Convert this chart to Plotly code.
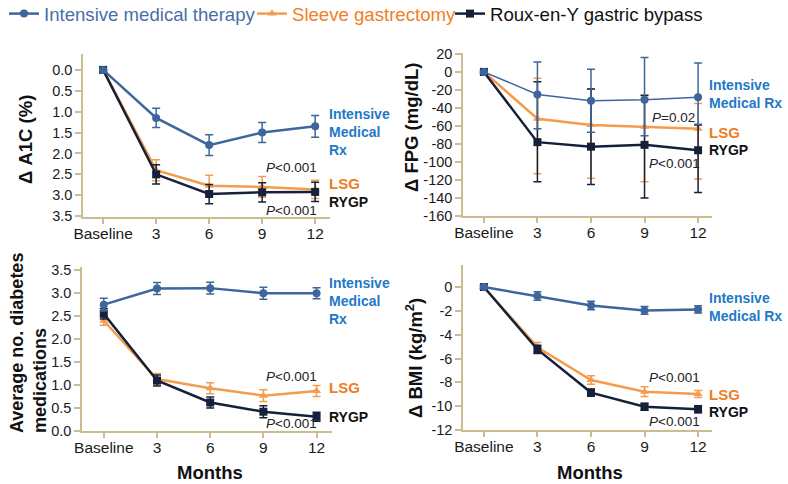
import plotly.graph_objects as go

# ---------------- data ----------------
months = ["Baseline", "3", "6", "9", "12"]
xpos = [0, 1, 2, 3, 4]

series_names = ["Intensive medical therapy", "Sleeve gastrectomy", "Roux-en-Y gastric bypass"]

# Panel A: change in A1C (%), axis reversed
a1c_imt = [0.0, 1.15, 1.80, 1.50, 1.35]
a1c_imt_err = [0.0, 0.23, 0.25, 0.24, 0.26]
a1c_lsg = [0.0, 2.40, 2.77, 2.80, 2.86]
a1c_lsg_err = [0.0, 0.25, 0.25, 0.25, 0.22]
a1c_ryg = [0.0, 2.50, 2.97, 2.93, 2.92]
a1c_ryg_err = [0.0, 0.23, 0.23, 0.23, 0.23]

# Panel B: change in FPG (mg/dL)
fpg_imt = [0, -25, -32, -31, -28]
fpg_imt_up = [0, 36, 35, 47, 38]
fpg_imt_dn = [0, 38, 35, 40, 30]
fpg_lsg = [0, -52, -59, -61, -63]
fpg_lsg_up = [0, 45, 40, 33, 28]
fpg_lsg_dn = [0, 61, 59, 61, 56]
fpg_ryg = [0, -78, -83, -81, -87]
fpg_ryg_up = [0, 67, 64, 55, 28]
fpg_ryg_dn = [0, 44, 42, 59, 47]

# Panel C: average number of diabetes medications
med_imt = [2.75, 3.10, 3.11, 3.00, 3.00]
med_imt_err = [0.14, 0.13, 0.13, 0.13, 0.12]
med_lsg = [2.40, 1.13, 0.93, 0.77, 0.87]
med_lsg_err = [0.10, 0.12, 0.12, 0.13, 0.12]
med_ryg = [2.55, 1.10, 0.62, 0.42, 0.31]
med_ryg_err = [0.11, 0.12, 0.12, 0.13, 0.10]

# Panel D: change in BMI (kg/m2)
bmi_imt = [0.0, -0.75, -1.55, -1.96, -1.88]
bmi_imt_err = [0.15, 0.35, 0.35, 0.32, 0.3]
bmi_lsg = [0.0, -5.05, -7.8, -8.78, -8.98]
bmi_lsg_err = [0.1, 0.4, 0.35, 0.4, 0.3]
bmi_ryg = [0.0, -5.23, -8.86, -10.05, -10.26]
bmi_ryg_err = [0.1, 0.35, 0.3, 0.3, 0.3]

# tick labels
a1c_ticks = [0, 0.5, 1.0, 1.5, 2.0, 2.5, 3.0, 3.5]
a1c_ticktext = ["0.0", "0.5", "1.0", "1.5", "2.0", "2.5", "3.0", "3.5"]
fpg_ticks = [20, 0, -20, -40, -60, -80, -100, -120, -140, -160]
fpg_ticktext = ["20", "0", "-20", "-40", "-60", "-80", "-100", "-120", "-140", "-160"]
med_ticks = [0, 0.5, 1.0, 1.5, 2.0, 2.5, 3.0, 3.5]
med_ticktext = ["0.0", "0.5", "1.0", "1.5", "2.0", "2.5", "3.0", "3.5"]
bmi_ticks = [0, -2, -4, -6, -8, -10, -12]
bmi_ticktext = ["0", "-2", "-4", "-6", "-8", "-10", "-12"]

# ---------------- style ----------------
W, H = 788, 484
FONT = "Arial, 'Liberation Sans', sans-serif"
C_IMT = "#3d669c"
C_LSG = "#f59c4c"
C_RYG = "#15213a"
T_IMT = "#1f79c6"
T_LSG = "#f07c1e"
AX = "#cbbd92"

def px(x):
    return x / W

def py(y):
    return 1 - y / H

fig = go.Figure()

def add(xa, ya, y, up, dn, color, symbol, name, legend, show, lw=2.5, msize=8):
    fig.add_trace(go.Scatter(
        x=xpos, y=y, xaxis=xa, yaxis=ya, mode="lines+markers", name=name,
        legend=legend, showlegend=show,
        line=dict(color=color, width=lw),
        marker=dict(color=color, symbol=symbol, size=msize),
        error_y=dict(type="data", symmetric=False, array=up, arrayminus=dn,
                     color=color, thickness=1.5, width=4),
    ))

# Panel A
add("x", "y", a1c_lsg, a1c_lsg_err, a1c_lsg_err, C_LSG, "triangle-up", series_names[1], "legend2", True)
add("x", "y", a1c_ryg, a1c_ryg_err, a1c_ryg_err, C_RYG, "square", series_names[2], "legend3", True)
add("x", "y", a1c_imt, a1c_imt_err, a1c_imt_err, C_IMT, "circle", series_names[0], "legend", True)
# Panel B
add("x2", "y2", fpg_lsg, fpg_lsg_up, fpg_lsg_dn, C_LSG, "triangle-up", series_names[1], "legend2", False)
add("x2", "y2", fpg_ryg, fpg_ryg_up, fpg_ryg_dn, C_RYG, "square", series_names[2], "legend3", False)
add("x2", "y2", fpg_imt, fpg_imt_up, fpg_imt_dn, C_IMT, "circle", series_names[0], "legend", False, lw=1.5)
# Panel C
add("x3", "y3", med_lsg, med_lsg_err, med_lsg_err, C_LSG, "triangle-up", series_names[1], "legend2", False)
add("x3", "y3", med_ryg, med_ryg_err, med_ryg_err, C_RYG, "square", series_names[2], "legend3", False)
add("x3", "y3", med_imt, med_imt_err, med_imt_err, C_IMT, "circle", series_names[0], "legend", False)
# Panel D
add("x4", "y4", bmi_lsg, bmi_lsg_err, bmi_lsg_err, C_LSG, "triangle-up", series_names[1], "legend2", False)
add("x4", "y4", bmi_ryg, bmi_ryg_err, bmi_ryg_err, C_RYG, "square", series_names[2], "legend3", False)
add("x4", "y4", bmi_imt, bmi_imt_err, bmi_imt_err, C_IMT, "circle", series_names[0], "legend", False)

def xaxis(dom, anchor, rng):
    return dict(domain=dom, anchor=anchor, range=rng, tickvals=xpos, ticktext=months,
                showline=True, linecolor=AX, linewidth=1.5, ticks="outside",
                tickcolor=AX, ticklen=5, tickwidth=1.5, showgrid=False, zeroline=False,
                automargin=False, ticklabelstandoff=-3,
                tickfont=dict(size=15.5, color="#1a1a1a"), fixedrange=True)

def yaxis(dom, anchor, rng, tv, tt):
    return dict(domain=dom, anchor=anchor, range=rng, tickvals=tv, ticktext=tt,
                showline=True, linecolor=AX, linewidth=1.5, ticks="outside",
                tickcolor=AX, ticklen=6, tickwidth=1.5, showgrid=False, zeroline=False,
                automargin=False,
                tickfont=dict(size=14.5, color="#1a1a1a"), fixedrange=True)

fig.update_layout(
    xaxis=xaxis([px(83), px(330)], "y", [-0.38, 4.28]),
    yaxis=yaxis([py(217), py(54)], "x", [3.52, -0.38], a1c_ticks, a1c_ticktext),
    xaxis2=xaxis([px(463), px(712)], "y2", [-0.39, 4.26]),
    yaxis2=yaxis([py(216), py(53)], "x2", [-160, 21], fpg_ticks, fpg_ticktext),
    xaxis3=xaxis([px(82), px(332)], "y3", [-0.41, 4.29]),
    yaxis3=yaxis([py(431), py(267)], "x3", [0, 3.57], med_ticks, med_ticktext),
    xaxis4=xaxis([px(463), px(712)], "y4", [-0.39, 4.26]),
    yaxis4=yaxis([py(430), py(265)], "x4", [-12, 1.85], bmi_ticks, bmi_ticktext),
)

def leg(x, color):
    return dict(x=px(x), y=py(14), xanchor="left", yanchor="middle", orientation="h",
                bgcolor="rgba(0,0,0,0)", borderwidth=0, itemwidth=30,
                font=dict(size=18.6, color=color, family=FONT))

fig.update_layout(
    legend=leg(4, "#4a6fa5"),
    legend2=leg(252, "#f08026"),
    legend3=leg(450, "#111111"),
)

ann = []
def text(x, y, s, size=14, color="#111", bold=True, xanchor="left", angle=0):
    ann.append(dict(x=px(x), y=py(y), xref="paper", yref="paper", text=(f"<b>{s}</b>" if bold else s),
                    showarrow=False, xanchor=xanchor, yanchor="middle", align="left",
                    textangle=angle, font=dict(size=size, color=color, family=FONT)))

P001 = "<i>P</i><0.001"
# Panel A labels
text(327, 132, "Intensive<br>Medical<br>Rx", color=T_IMT)
text(327, 183, "LSG", size=15, color=T_LSG)
text(327, 202, "RYGP")
text(264, 168, P001, size=13.5, bold=False, color="#222")
text(264, 211, P001, size=13.5, bold=False, color="#222")
# Panel B
text(707, 94, "Intensive<br>Medical Rx", color=T_IMT)
text(650, 117, "<i>P</i>=0.02", size=13.5, bold=False, color="#222")
text(707, 133, "LSG", size=15, color=T_LSG)
text(707, 150, "RYGP")
text(647, 163, P001, size=13.5, bold=False, color="#222")
# Panel C
text(327, 301, "Intensive<br>Medical<br>Rx", color=T_IMT)
text(264, 376, P001, size=13.5, bold=False, color="#222")
text(327, 387, "LSG", size=15, color=T_LSG)
text(327, 417, "RYGP")
text(264, 423, P001, size=13.5, bold=False, color="#222")
# Panel D
text(707, 307, "Intensive<br>Medical Rx", color=T_IMT)
text(647, 377, P001, size=13.5, bold=False, color="#222")
text(707, 394, "LSG", size=15, color=T_LSG)
text(707, 412, "RYGP")
text(647, 421, P001, size=13.5, bold=False, color="#222")

# axis titles
text(26, 140, "Δ A1C (%)", size=18.5, xanchor="center", angle=-90)
text(411, 128, "Δ FPG (mg/dL)", size=18.5, xanchor="center", angle=-90)
text(28, 343, "Average no. diabetes<br>medications", size=18, xanchor="center", angle=-90)
text(414, 358, "Δ BMI (kg/m<sup>2</sup>)", size=18.5, xanchor="center", angle=-90)
text(210, 472, "Months", size=18.5, xanchor="center")
text(590, 472, "Months", size=18.5, xanchor="center")

fig.update_layout(
    annotations=ann,
    width=W, height=H,
    margin=dict(l=0, r=0, t=0, b=0, autoexpand=False),
    paper_bgcolor="white", plot_bgcolor="white",
    font=dict(family=FONT, color="#111"),
)

fig.write_html("out.html", config={"displayModeBar": False})
